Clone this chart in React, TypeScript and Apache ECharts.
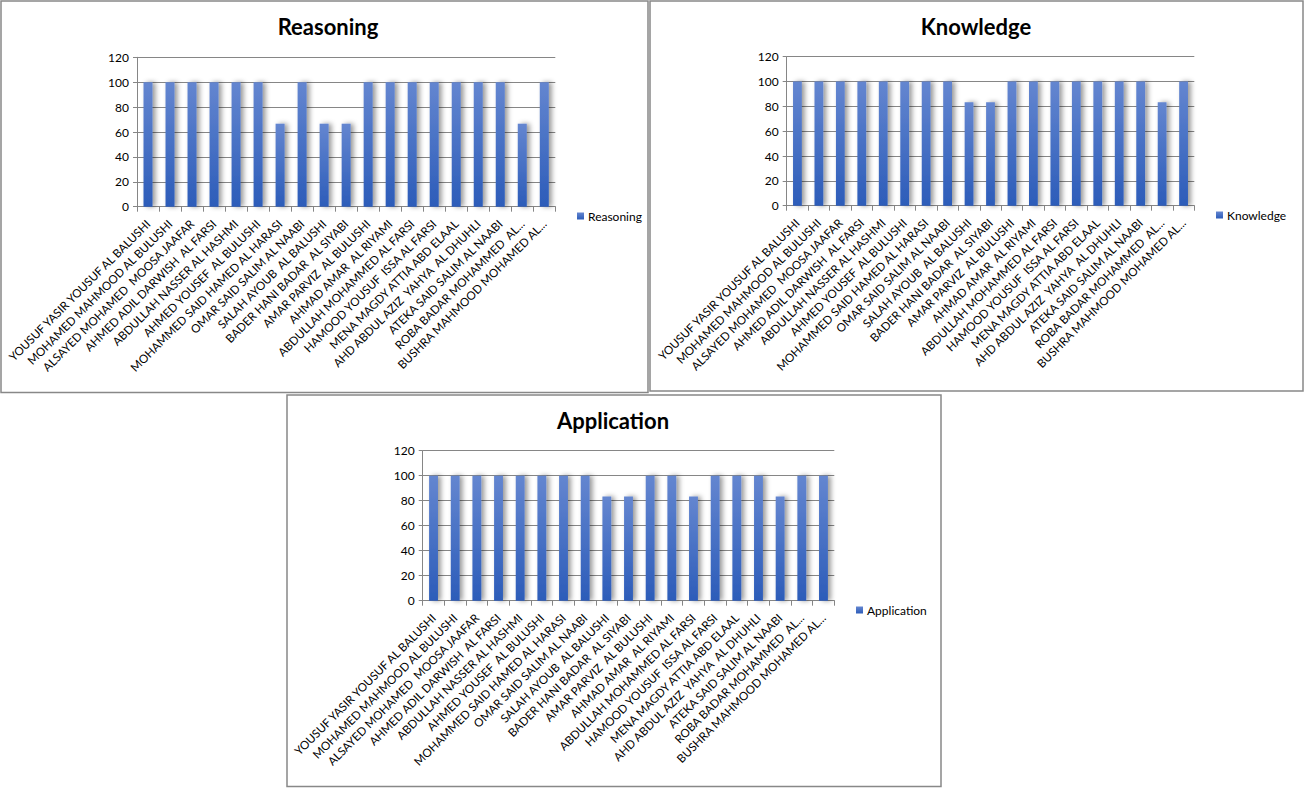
import React, { useEffect, useRef } from "react";
import * as echarts from "echarts";

const students = [
  "YOUSUF YASIR YOUSUF AL BALUSHI",
  "MOHAMED MAHMOOD AL BULUSHI",
  "ALSAYED MOHAMED  MOOSA JAAFAR",
  "AHMED ADIL DARWISH  AL FARSI",
  "ABDULLAH NASSER AL HASHMI",
  "AHMED YOUSEF  AL BULUSHI",
  "MOHAMMED SAID HAMED AL HARASI",
  "OMAR SAID SALIM AL NAABI",
  "SALAH AYOUB  AL BALUSHI",
  "BADER HANI BADAR  AL SIYABI",
  "AMAR PARVIZ  AL BULUSHI",
  "AHMAD AMAR  AL RIYAMI",
  "ABDULLAH MOHAMMED AL FARSI",
  "HAMOOD YOUSUF  ISSA AL FARSI",
  "MENA MAGDY ATTIA ABD ELAAL",
  "AHD ABDUL AZIZ  YAHYA  AL DHUHLI",
  "ATEKA SAID SALIM AL NAABI",
  "ROBA BADAR MOHAMMED  AL...",
  "BUSHRA MAHMOOD MOHAMED AL...",
];

const reasoning = [100, 100, 100, 100, 100, 100, 66.67, 100, 66.67, 66.67, 100, 100, 100, 100, 100, 100, 100, 66.67, 100];
const knowledge = [100, 100, 100, 100, 100, 100, 100, 100, 83.33, 83.33, 100, 100, 100, 100, 100, 100, 100, 83.33, 100];
const application = [100, 100, 100, 100, 100, 100, 100, 100, 83.33, 83.33, 100, 100, 83.33, 100, 100, 100, 83.33, 100, 100];

const yTicks = { min: 0, max: 120, interval: 20 };

const FONT = "Lato, 'Noto Sans', sans-serif";
const GRAY = "#868686";

export default function App() {
  const ref = useRef<HTMLDivElement>(null);
  useEffect(() => {
    if (!ref.current) return;
    const chart = echarts.init(ref.current, null, { renderer: "svg" });

    const panels = [
      { name: "Reasoning", data: reasoning, grid: { left: 137, top: 57.3, width: 418.3, height: 149.4 }, title: [328, 26], legend: [577, 210], box: [1, 1, 647, 391.5] },
      { name: "Knowledge", data: knowledge, grid: { left: 786.7, top: 56.7, width: 407.6, height: 149 }, title: [976, 26], legend: [1216, 209], box: [650, 1, 653, 390] },
      { name: "Application", data: application, grid: { left: 422.7, top: 450.7, width: 411.6, height: 150 }, title: [613, 420], legend: [856, 604], box: [287, 395, 654, 391.5] },
    ];

    const barColor = new echarts.graphic.LinearGradient(0, 0, 0, 1, [
      { offset: 0, color: "#6486d0" },
      { offset: 1, color: "#2c5cb9" },
    ]);

    const option: any = {
      animation: false,
      backgroundColor: "#ffffff",
      textStyle: { fontFamily: FONT },
      grid: panels.map((p) => ({ ...p.grid, containLabel: false })),
      xAxis: panels.map((p, i) => ({
        type: "category",
        gridIndex: i,
        data: students,
        boundaryGap: true,
        axisLine: { lineStyle: { color: GRAY, width: 1 } },
        axisTick: { show: true, length: 5, lineStyle: { color: GRAY } },
        axisLabel: { rotate: 45, interval: 0, fontSize: 11.6, color: "#000", fontFamily: FONT, margin: 15 },
        splitLine: { show: false },
      })),
      yAxis: panels.map((p, i) => ({
        type: "value",
        gridIndex: i,
        min: yTicks.min,
        max: yTicks.max,
        interval: yTicks.interval,
        axisLine: { show: true, lineStyle: { color: GRAY, width: 1 } },
        axisTick: { show: true, length: 4, lineStyle: { color: GRAY } },
        axisLabel: { fontSize: 12, color: "#000", fontFamily: FONT, margin: 8 },
        splitLine: { show: true, lineStyle: { color: GRAY, width: 1 } },
      })),
      legend: panels.map((p) => ({
        data: [p.name],
        left: p.legend[0],
        top: p.legend[1],
        icon: "rect",
        itemWidth: 7,
        itemHeight: 7,
        itemGap: 4,
        padding: 0,
        textStyle: { fontSize: 12, color: "#000", fontFamily: FONT, padding: [0, 0, 0, -1] },
      })),
      series: panels.map((p, i) => ({
        type: "bar",
        name: p.name,
        xAxisIndex: i,
        yAxisIndex: i,
        data: p.data,
        barWidth: "41%",
        itemStyle: {
          color: barColor,
          shadowColor: "rgba(0,0,0,0.4)",
          shadowBlur: 5,
          shadowOffsetX: 3,
          shadowOffsetY: 0,
        },
      })),
      graphic: [
        ...panels.map((p) => ({
          type: "rect",
          shape: { x: p.box[0], y: p.box[1], width: p.box[2], height: p.box[3] },
          style: { fill: "none", stroke: "#888888", lineWidth: 1.5 },
          silent: true,
        })),
        ...panels.map((p) => ({
          type: "text",
          x: p.title[0],
          y: p.title[1],
          style: {
            text: p.name,
            fontSize: 22,
            fontWeight: "bold",
            fontFamily: FONT,
            fill: "#000",
            textAlign: "center",
            textVerticalAlign: "middle",
          },
        })),
      ],
    };

    chart.setOption(option);
    return () => chart.dispose();
  }, []);

  return (
    <div style={{ position: "absolute", left: 0, top: 0, width: 1312, height: 792, background: "#fff" }}>
      <div ref={ref} style={{ width: 1312, height: 792 }} />
    </div>
  );
}
